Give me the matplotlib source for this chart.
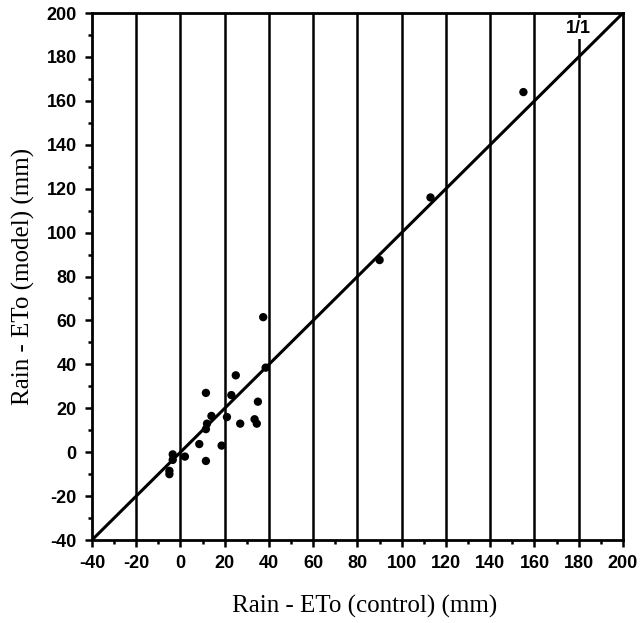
import numpy as np
import matplotlib.pyplot as plt
from matplotlib.ticker import MultipleLocator

plt.rcParams['axes.unicode_minus'] = False

# Rain - ETo, control vs model (mm)
control = [155, 113, 90, 37.4, 38.5, 25, 11.5, 23, 35, 14, 21, 33.5, 34.5, 27, 12, 11.5,
           8.5, 18.6, -3.5, 2, -3.5, 11.5, -5, -5]
model = [164, 116, 87.5, 61.5, 38.5, 35, 27, 26, 23, 16.5, 16, 15, 13, 13, 13, 10.5,
         3.7, 3, -1, -2, -3.5, -4, -8.5, -10]

lims = [-40, 200]
grid_x = list(range(-20, 200, 20))

fig = plt.figure(figsize=(6.4, 6.23), dpi=100)
ax = fig.add_axes([0.1437, 0.1332, 0.8297, 0.8459])

for gx in grid_x:
    ax.axvline(gx, color='black', lw=1.8, zorder=1)

ax.plot(lims, lims, color='black', lw=2.2, zorder=2)
ax.scatter(control, model, s=36, color='black', zorder=3, edgecolors='none')

ax.text(180, 193, '1/1', ha='center', va='center', fontsize=13, fontweight='bold',
        family='Liberation Sans', zorder=4,
        bbox=dict(facecolor='white', edgecolor='none', pad=1.5))

ax.set_xlim(lims)
ax.set_ylim(lims)
ax.xaxis.set_major_locator(MultipleLocator(20))
ax.yaxis.set_major_locator(MultipleLocator(20))
ax.xaxis.set_minor_locator(MultipleLocator(10))
ax.yaxis.set_minor_locator(MultipleLocator(10))
ax.tick_params(which='major', direction='out', length=5, width=1.8, labelsize=13, pad=6)
ax.tick_params(which='minor', direction='out', length=3, width=1.8)
for lab in ax.get_xticklabels() + ax.get_yticklabels():
    lab.set_family('Liberation Sans')
    lab.set_fontweight('bold')

for sp in ax.spines.values():
    sp.set_linewidth(2)

ax.set_xlabel('Rain - ETo (control) (mm)', family='Liberation Serif', fontsize=18)
ax.set_ylabel('Rain - ETo (model) (mm)', family='Liberation Serif', fontsize=18, labelpad=8)
ax.xaxis.set_label_coords(0.513, -0.105)

plt.savefig('out.png', dpi=100)
